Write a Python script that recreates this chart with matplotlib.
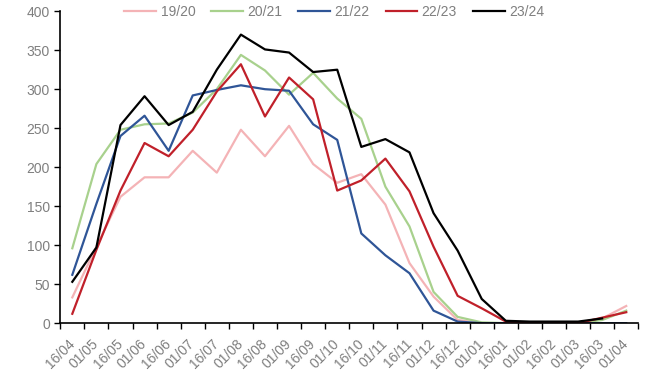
import matplotlib.pyplot as plt
import numpy as np

# categories (half-month periods)
labels = ['16/04', '01/05', '16/05', '01/06', '16/06', '01/07', '16/07', '01/08',
          '16/08', '01/09', '16/09', '01/10', '16/10', '01/11', '16/11', '01/12',
          '16/12', '01/01', '16/01', '01/02', '16/02', '01/03', '16/03', '01/04']

s1920 = [33, 98, 162, 187, 187, 221, 193, 248, 214, 253, 204, 180, 191, 152, 77, 34,
         4, 0, 0, 0, 0, 0, 6, 22]
s2021 = [96, 204, 248, 255, 256, 270, 300, 344, 324, 293, 321, 288, 262, 175, 124, 40,
         8, 1, 0, 0, 0, 0, 4, 16]
s2122 = [62, 153, 240, 266, 221, 292, 299, 305, 300, 298, 255, 235, 115, 87, 64, 16,
         2, 0, 0, 0, 0, 0, 0, 0]
s2223 = [12, 94, 170, 231, 214, 248, 297, 332, 265, 315, 287, 170, 183, 211, 169, 98,
         35, 19, 2, 0, 0, 0, 7, 14]
s2324 = [53, 97, 254, 291, 254, 271, 325, 370, 351, 347, 322, 325, 226, 236, 219, 141,
         93, 31, 3, 2, 2, 2, 6, None]

series = [('19/20', s1920, '#F4B3B6'),
          ('20/21', s2021, '#A8D18D'),
          ('21/22', s2122, '#2F5597'),
          ('22/23', s2223, '#C0202A'),
          ('23/24', s2324, '#000000')]

plt.rcParams['font.family'] = ['Liberation Sans', 'DejaVu Sans']

fig = plt.figure(figsize=(6.48, 3.74), dpi=100)
ax = fig.add_axes([0.093, 0.136, 0.892, 0.834])

x = np.arange(len(labels))
for name, vals, col in series:
    y = np.array([np.nan if v is None else v for v in vals], dtype=float)
    ax.plot(x, y, color=col, lw=1.6, label=name)

ax.set_xlim(-0.5, len(labels) - 0.5)
ax.set_ylim(0, 400)
ax.set_yticks(range(0, 401, 50))

# tick marks between categories, labels under categories
ax.set_xticks(np.arange(-0.5, len(labels), 1.0))
ax.set_xticklabels([])
ax.set_xticks(x, minor=True)
ax.set_xticklabels(labels, minor=True, rotation=45, ha='right', va='center',
                   rotation_mode='anchor')
ax.tick_params(axis='x', which='minor', length=0, pad=13)
ax.tick_params(axis='x', which='major', length=4, width=1, direction='out')
ax.tick_params(axis='y', length=4, width=1, direction='out')
ax.tick_params(axis='both', which='both', labelsize=10, labelcolor='#7F7F7F')

for sp in ['top', 'right']:
    ax.spines[sp].set_visible(False)
for sp in ['left', 'bottom']:
    ax.spines[sp].set_linewidth(1.2)
    ax.spines[sp].set_color('black')

leg = ax.legend(loc='upper center', bbox_to_anchor=(0.474, 1.06), ncol=5, frameon=False,
                fontsize=10, handlelength=2.3, columnspacing=1.15, handletextpad=0.3)
for t in leg.get_texts():
    t.set_color('#7F7F7F')

fig.savefig('out.png', dpi=100)
